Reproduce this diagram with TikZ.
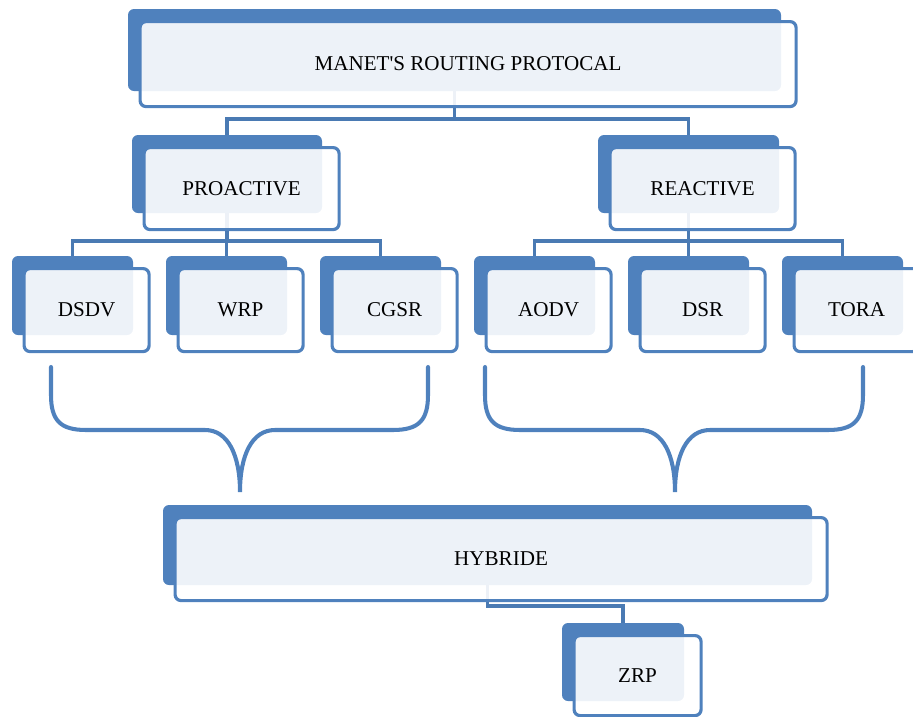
\documentclass[tikz,border=0pt]{standalone}
\usepackage{fontspec}
\setmainfont{Liberation Serif}[Ligatures=TeXOff]
\usetikzlibrary{backgrounds}

\definecolor{boxblue}{HTML}{4F81BD}
\definecolor{linkblue}{HTML}{4A7AB3}

\tikzset{
	back/.style 2 args={fill=boxblue, rounded corners=0.12cm, anchor=north west,
		inner sep=0pt, outer sep=0pt, minimum width=#1, minimum height=#2},
	front/.style 2 args={draw=boxblue, line width=1.8pt, fill=white, fill opacity=0.9,
		text opacity=1, rounded corners=0.12cm, anchor=north west, inner sep=0pt,
		minimum width=#1, minimum height=#2, font=\fontsize{12}{14}\selectfont},
	link/.style={draw=linkblue, line width=1.8pt},
	brace/.style={draw=boxblue, line width=2.3pt, line cap=round}
}

\begin{document}
\begin{tikzpicture}

\useasboundingbox (0,0) rectangle (18.26,-14.34);

% top box
\node[back={13.06cm}{1.64cm}] (manetB) at (2.56,-0.18) {};
\node[front={13.12cm}{1.70cm}] (manet) at ([shift={(0.21,-0.22)}]manetB.north west) {MANET'S ROUTING PROTOCAL};

% second level
\node[back={3.80cm}{1.56cm}] (proactiveB) at (2.64,-2.70) {};
\node[front={3.90cm}{1.64cm}] (proactive) at ([shift={(0.21,-0.22)}]proactiveB.north west) {PROACTIVE};
\node[back={3.62cm}{1.56cm}] (reactiveB) at (11.96,-2.70) {};
\node[front={3.70cm}{1.64cm}] (reactive) at ([shift={(0.21,-0.22)}]reactiveB.north west) {REACTIVE};

% protocols
\node[back={2.42cm}{1.58cm}] (dsdvB) at (0.24,-5.12) {};
\node[front={2.50cm}{1.66cm}] (dsdv) at ([shift={(0.21,-0.22)}]dsdvB.north west) {DSDV};
\node[back={2.42cm}{1.58cm}] (wrpB) at (3.32,-5.12) {};
\node[front={2.50cm}{1.66cm}] (wrp) at ([shift={(0.21,-0.22)}]wrpB.north west) {WRP};
\node[back={2.42cm}{1.58cm}] (cgsrB) at (6.40,-5.12) {};
\node[front={2.50cm}{1.66cm}] (cgsr) at ([shift={(0.21,-0.22)}]cgsrB.north west) {CGSR};
\node[back={2.42cm}{1.58cm}] (aodvB) at (9.48,-5.12) {};
\node[front={2.50cm}{1.66cm}] (aodv) at ([shift={(0.21,-0.22)}]aodvB.north west) {AODV};
\node[back={2.42cm}{1.58cm}] (dsrB) at (12.56,-5.12) {};
\node[front={2.50cm}{1.66cm}] (dsr) at ([shift={(0.21,-0.22)}]dsrB.north west) {DSR};
\node[back={2.42cm}{1.58cm}] (toraB) at (15.64,-5.12) {};
\node[front={2.50cm}{1.66cm}] (tora) at ([shift={(0.21,-0.22)}]toraB.north west) {TORA};

% braces
\draw[brace] (1.02,-7.34) -- (1.02,-7.90) .. controls (1.02,-8.40) and (1.20,-8.60) .. (1.72,-8.60)
	-- (4.10,-8.60) .. controls (4.56,-8.60) and (4.80,-9.10) .. (4.80,-9.84)
	.. controls (4.80,-9.10) and (5.04,-8.60) .. (5.50,-8.60) -- (7.86,-8.60)
	.. controls (8.38,-8.60) and (8.56,-8.40) .. (8.56,-7.90) -- (8.56,-7.34);
\draw[brace] (9.70,-7.34) -- (9.70,-7.90) .. controls (9.70,-8.40) and (9.88,-8.60) .. (10.40,-8.60)
	-- (12.80,-8.60) .. controls (13.26,-8.60) and (13.50,-9.10) .. (13.50,-9.84)
	.. controls (13.50,-9.10) and (13.74,-8.60) .. (14.20,-8.60) -- (16.56,-8.60)
	.. controls (17.08,-8.60) and (17.26,-8.40) .. (17.26,-7.90) -- (17.26,-7.34);

% hybrid
\node[back={12.98cm}{1.60cm}] (hybrideB) at (3.26,-10.10) {};
\node[front={13.04cm}{1.66cm}] (hybride) at ([shift={(0.21,-0.22)}]hybrideB.north west) {HYBRIDE};
\node[back={2.44cm}{1.56cm}] (zrpB) at (11.24,-12.46) {};
\node[front={2.54cm}{1.60cm}] (zrp) at ([shift={(0.21,-0.22)}]zrpB.north west) {ZRP};

% connectors
\begin{scope}[on background layer]
\draw[link] (manetB.south) -- ++(0,-0.56) -| (proactiveB.north);
\draw[link] (manetB.south) -- ++(0,-0.56) -| (reactiveB.north);
\draw[link] (proactiveB.south) -- ++(0,-0.56) -| (dsdvB.north);
\draw[link] (proactiveB.south) -- ++(0,-0.56) -| (wrpB.north);
\draw[link] (proactiveB.south) -- ++(0,-0.56) -| (cgsrB.north);
\draw[link] (reactiveB.south) -- ++(0,-0.56) -| (aodvB.north);
\draw[link] (reactiveB.south) -- ++(0,-0.56) -| (dsrB.north);
\draw[link] (reactiveB.south) -- ++(0,-0.56) -| (toraB.north);
\draw[link] (hybrideB.south) -- ++(0,-0.42) -| (zrpB.north);
\end{scope}

\end{tikzpicture}
\end{document}
